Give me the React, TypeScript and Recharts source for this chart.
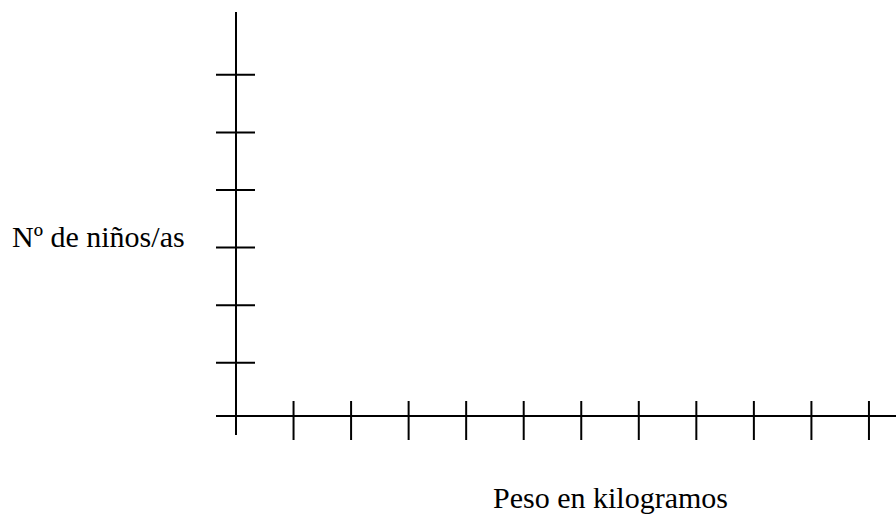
import { LineChart, XAxis, YAxis, Line } from "recharts";

// tick values along each axis
const xTicks = [0, 1, 2, 3, 4, 5, 6, 7, 8, 9, 10, 11];
const yTicks = [0.076, 1, 2, 3, 4, 5, 6];
const emptySeries: Array<{ peso: number; ninos: number | null }> = [];

const xDomain = [0, 11.47];
const yDomain = [0.076, 7.09];

const serif = { fontFamily: "'Liberation Serif', 'Times New Roman', serif" };

const XTick = (props: any) => {
  const { x, y } = props;
  // first tick sits on the y axis, so it only extends it downward
  if (props.index === 0) {
    return <line x1={x} x2={x} y1={y} y2={y + 19} stroke="#000" strokeWidth={2} />;
  }
  return <line x1={x} x2={x} y1={y - 15} y2={y + 24} stroke="#000" strokeWidth={2} />;
};

const YTick = (props: any) => {
  const { x, y } = props;
  if (props.index === 0) {
    return <line x1={x - 20} x2={x} y1={y} y2={y} stroke="#000" strokeWidth={2} />;
  }
  return <line x1={x - 20} x2={x + 19} y1={y} y2={y} stroke="#000" strokeWidth={2} />;
};

export default function App() {
  return (
    <div style={{ position: "absolute", left: 0, top: 0, width: 896, height: 516, background: "#fff" }}>
      <LineChart
        width={896}
        height={516}
        data={emptySeries}
        margin={{ top: 12, right: 0, bottom: 0, left: 0 }}
      >
        <XAxis
          type="number"
          dataKey="peso"
          domain={xDomain}
          ticks={xTicks}
          allowDataOverflow
          height={100}
          tickSize={0}
          tickMargin={0}
          tickLine={false}
          tick={<XTick />}
          axisLine={{ stroke: "#000", strokeWidth: 2 }}
        />
        <YAxis
          type="number"
          domain={yDomain}
          ticks={yTicks}
          allowDataOverflow
          width={236}
          tickSize={0}
          tickMargin={0}
          tickLine={false}
          tick={<YTick />}
          axisLine={{ stroke: "#000", strokeWidth: 2 }}
        />
        <Line dataKey="ninos" isAnimationActive={false} dot={false} stroke="#000" />
        <text x={12} y={247} style={{ ...serif, fontSize: 30 }} fill="#000">
          Nº de niños/as
        </text>
        <text x={493} y={508} style={{ ...serif, fontSize: 30 }} fill="#000">
          Peso en kilogramos
        </text>
      </LineChart>
    </div>
  );
}
